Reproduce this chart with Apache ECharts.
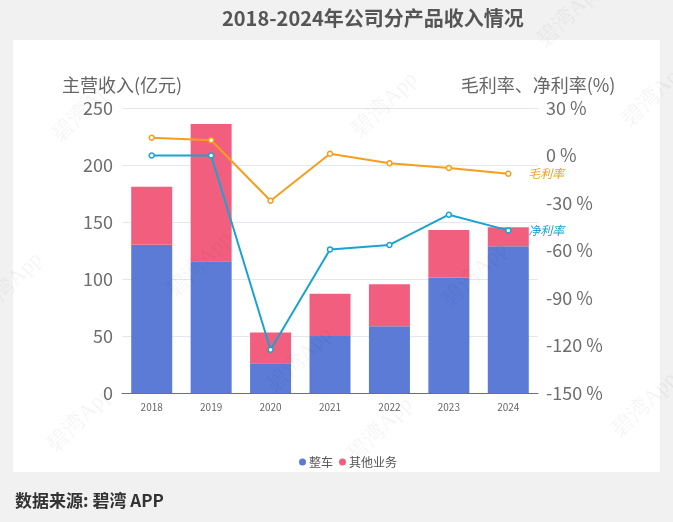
<!DOCTYPE html>
<html>
<head>
<meta charset="utf-8">
<script src="https://cdn.jsdelivr.net/npm/echarts@6/dist/echarts.min.js"></script>
<style>
  html, body { margin: 0; padding: 0; background: #f1f1f1; }
  #main { width: 673px; height: 522px; }
</style>
</head>
<body>
<div id="main"></div>
<script>
var years = ['2018', '2019', '2020', '2021', '2022', '2023', '2024'];
var vehicleRev = [130, 115.5, 26, 50, 58.5, 101, 128.7];
var otherRev = [51, 120.5, 27, 37, 37, 42, 16.6];
var grossMargin = [11.2, 9.6, -28.6, 1.1, -4.9, -7.9, -11.5];
var netMargin = [0, 0, -122.7, -59.3, -56.5, -37.4, -47.3];

var cjk = '"Noto Sans CJK SC", "Noto Sans", sans-serif';

// faint watermark
var marks = [[85, 110], [385, 105], [655, 95], [570, 15], [200, 265], [475, 275],
             [10, 285], [80, 420], [380, 430], [645, 405], [300, 360]];
var watermark = marks.map(function (p) {
    return {
        type: 'text', x: p[0], y: p[1], rotation: Math.PI / 4, z: 100,
        style: { text: '碧湾App', font: '22px serif', fill: 'rgba(0,0,0,0.045)',
                 align: 'center', verticalAlign: 'middle' }
    };
});

var chart = echarts.init(document.getElementById('main'));
chart.setOption({
    backgroundColor: '#f1f1f1',
    textStyle: { fontFamily: cjk },
    title: [
        {
            text: '2018-2024年公司分产品收入情况',
            left: 217, top: 3,
            textStyle: { fontSize: 20, fontWeight: 'bold', color: '#555', fontFamily: cjk }
        },
        {
            text: '数据来源: 碧湾 APP',
            left: 10, top: 487,
            textStyle: { fontSize: 17, fontWeight: 'bold', color: '#333', fontFamily: cjk }
        }
    ],
    graphic: [
        { type: 'rect', shape: { x: 13, y: 40, width: 647, height: 432 },
          style: { fill: '#fff' }, z: -10, silent: true }
    ].concat(watermark),
    legend: {
        left: 294, top: 451,
        icon: 'circle', itemWidth: 7, itemHeight: 7, itemGap: 6,
        textStyle: { fontSize: 12, color: '#555', padding: [0, 0, 0, -2] },
        data: ['整车', '其他业务']
    },
    grid: { left: 122, right: 135, top: 108, bottom: 129 },
    xAxis: {
        type: 'category',
        data: years,
        axisTick: { show: false },
        axisLine: { lineStyle: { color: '#6e7079' } },
        axisLabel: { fontSize: 10, color: '#666', margin: 9 }
    },
    yAxis: [
        {
            type: 'value', min: 0, max: 250, interval: 50,
            name: '主营收入(亿元)', nameGap: 14,
            nameTextStyle: { fontSize: 18, color: '#666', align: 'center' },
            axisLabel: { fontSize: 18, color: '#6e6e6e', margin: 9 },
            splitLine: { lineStyle: { color: '#e4e7ee' } }
        },
        {
            type: 'value', min: -150, max: 30, interval: 30,
            name: '毛利率、净利率(%)', nameGap: 14,
            nameTextStyle: { fontSize: 18, color: '#666', align: 'center' },
            axisLabel: { fontSize: 18, color: '#6e6e6e', margin: 8, formatter: '{value} %' },
            splitLine: { show: false }
        }
    ],
    series: [
        {
            name: '整车', type: 'bar', stack: 'rev', barWidth: 41,
            itemStyle: { color: '#5b7bd6' },
            data: vehicleRev
        },
        {
            name: '其他业务', type: 'bar', stack: 'rev', barWidth: 41,
            itemStyle: { color: '#f25f7e' },
            data: otherRev
        },
        {
            name: '毛利率', type: 'line', yAxisIndex: 1, z: 5,
            symbol: 'circle', symbolSize: 5,
            lineStyle: { width: 2, color: '#f59f1c' },
            itemStyle: { color: '#fff', borderColor: '#f59f1c', borderWidth: 1.5 },
            endLabel: { show: true, formatter: '毛利率', distance: 20, color: '#f59f1c',
                        fontStyle: 'italic', fontSize: 12 },
            data: grossMargin
        },
        {
            name: '净利率', type: 'line', yAxisIndex: 1, z: 5,
            symbol: 'circle', symbolSize: 5,
            lineStyle: { width: 2, color: '#1aa3d0' },
            itemStyle: { color: '#fff', borderColor: '#1aa3d0', borderWidth: 1.5 },
            endLabel: { show: true, formatter: '净利率', distance: 20, color: '#1aa3d0',
                        fontStyle: 'italic', fontSize: 12 },
            data: netMargin
        }
    ]
});
</script>
</body>
</html>
